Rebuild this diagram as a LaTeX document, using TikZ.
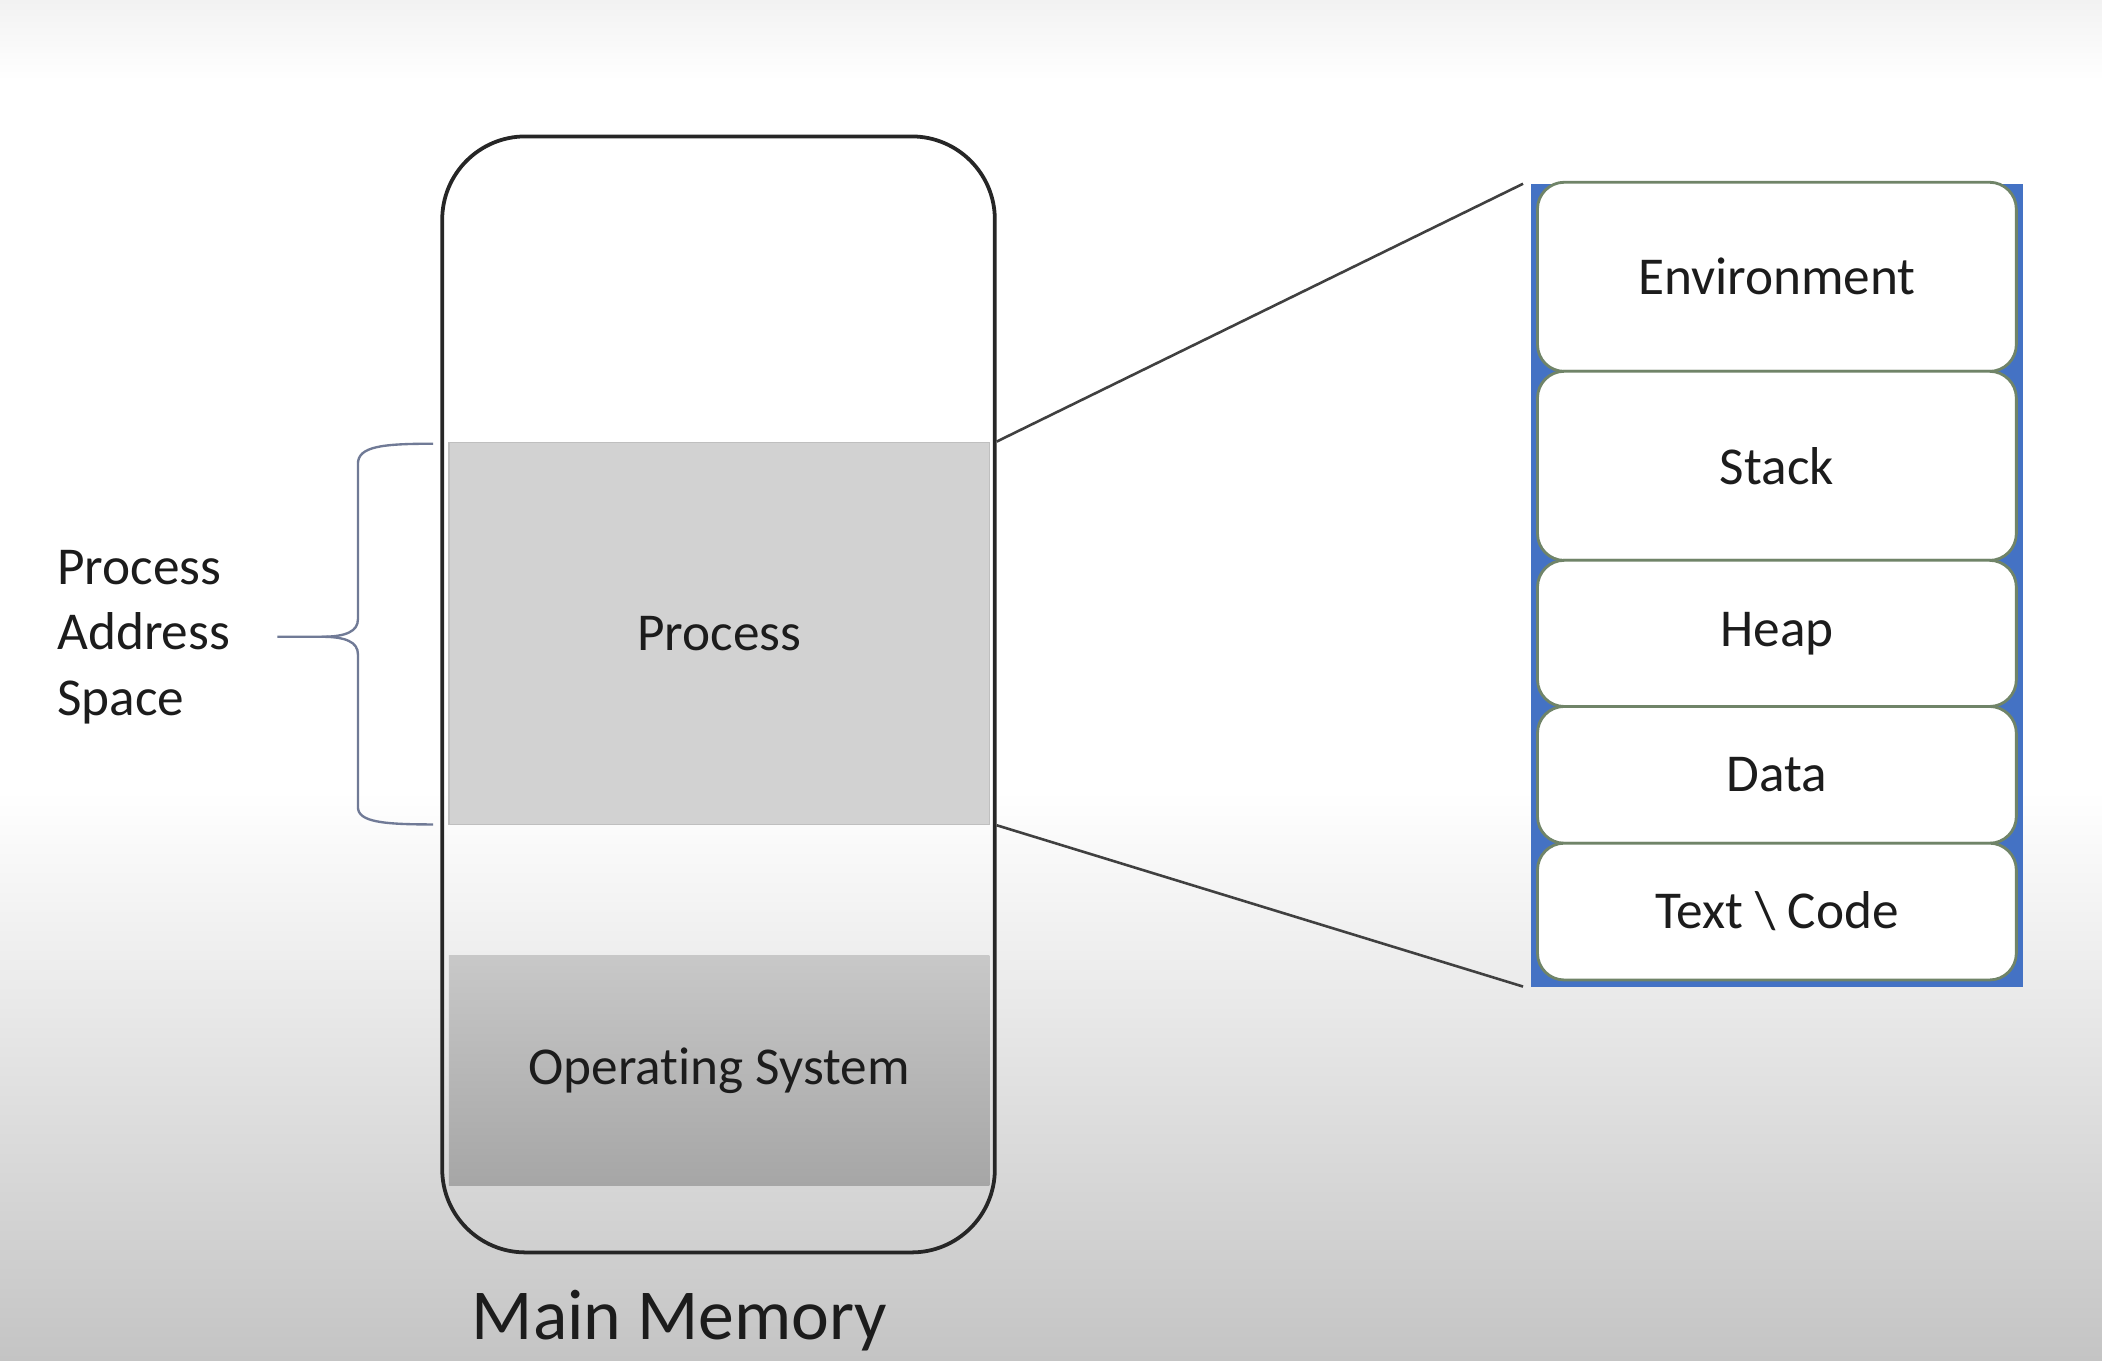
\documentclass[tikz,border=0pt]{standalone}
\usepackage{fontspec}
\setmainfont[Ligatures={NoCommon,NoContextual},Contextuals={NoAlternate}]{Carlito}
\definecolor{officeblue}{RGB}{68,114,196}
\definecolor{boxline}{RGB}{112,132,104}
\definecolor{bracecol}{RGB}{112,122,150}
\definecolor{txt}{RGB}{28,28,28}
\definecolor{procfill}{RGB}{210,210,210}
\definecolor{ostop}{RGB}{200,200,200}
\definecolor{osbot}{RGB}{166,166,166}
\definecolor{bgbot}{RGB}{196,196,196}
\definecolor{bgtop}{RGB}{242,242,242}
\begin{document}
\begin{tikzpicture}[x=0.01cm,y=-0.01cm,
  lbl/.style={font=\fontsize{11.3}{13.9}\selectfont, text=txt},
  segbox/.style={draw=boxline, line width=0.6pt, fill=white, rounded corners=0.2cm,
     minimum width=3.57cm, inner sep=0pt, lbl},
  link/.style={draw=black!75, line width=0.55pt}]
% background
\useasboundingbox (0,0) rectangle (1568,1015);
\fill[white] (0,0) rectangle (1568,1015);
\shade[top color=bgtop, bottom color=white] (0,0) rectangle (1568,60);
\shade[top color=white, bottom color=bgbot] (0,590) rectangle (1568,1015);
% main memory
\node (proc) [fill=procfill, draw=black!25, line width=0.3pt, minimum width=4.03cm, minimum height=2.85cm, inner sep=0pt, lbl] at (536.5,472.5) {Process};
\node (os) [top color=ostop, bottom color=osbot, minimum width=4.03cm, minimum height=1.71cm, inner sep=0pt, lbl] at (536.5,798.5) {Operating System};
\node (mem) [draw=black!85, line width=0.8pt, rounded corners=0.62cm, minimum width=4.12cm, minimum height=8.32cm, inner sep=0pt] at (536,518) {};
\node (memlbl) [font=\fontsize{15.2}{18}\selectfont, text=txt] at (507,985) {Main Memory};
% brace
\draw[bracecol, line width=0.5pt]
  (323,331) .. controls (285,331) and (267,333) .. (267,346) -- (267,462)
  .. controls (267,471) and (258,475) .. (240,475) -- (207,475);
\draw[bracecol, line width=0.5pt]
  (240,475) .. controls (258,475) and (267,479) .. (267,488) -- (267,602)
  .. controls (267,613) and (285,615) .. (323,615);
\node (pas) [lbl, align=left, anchor=west, inner sep=0pt] at (42,475) {Process\\Address\\Space};
% right panel
\node (panel) [fill=officeblue, draw=officeblue, line width=1pt, minimum width=3.63cm, minimum height=5.95cm, inner sep=0pt] at (1325.5,436.5) {};
\node (env)  [segbox, minimum height=1.41cm] at (1325.5,206.5) {Environment};
\node (stk)  [segbox, minimum height=1.41cm] at (1325.5,347.5) {Stack};
\node (heap) [segbox, minimum height=1.09cm] at (1325.5,472.5) {Heap};
\node (data) [segbox, minimum height=1.02cm] at (1325.5,578) {Data};
\node (code) [segbox, minimum height=1.02cm] at (1325.5,680) {Text \textbackslash\ Code};
% connectors
\draw[link] (mem.east |- proc.north) -- ([xshift=-0.06cm]panel.north west);
\draw[link] (mem.east |- proc.south) -- ([xshift=-0.06cm]panel.south west);
\end{tikzpicture}
\end{document}
